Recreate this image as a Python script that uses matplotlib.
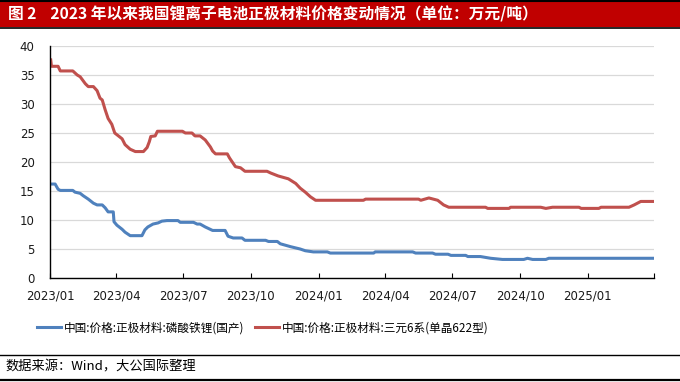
import matplotlib
matplotlib.use('Agg')
import matplotlib.pyplot as plt
from matplotlib.lines import Line2D
from matplotlib.patches import Rectangle
import pandas as pd

plt.rcParams['font.family'] = ['Noto Sans CJK SC', 'DejaVu Sans']

title = '图 2    2023 年以来我国锂离子电池正极材料价格变动情况（单位：万元/吨）'
source = '数据来源：Wind，大公国际整理'
tick_labels = ['2023/01', '2023/04', '2023/07', '2023/10', '2024/01',
               '2024/04', '2024/07', '2024/10', '2025/01']

lfp_label = '中国:价格:正极材料:磷酸铁锂(国产)'
lfp_dates = ['2023-01-02', '2023-01-08', '2023-01-12', '2023-01-15', '2023-02-01',
             '2023-02-04', '2023-02-11', '2023-02-15', '2023-02-22', '2023-03-01',
             '2023-03-06', '2023-03-13', '2023-03-17', '2023-03-21', '2023-03-28',
             '2023-03-29', '2023-04-02', '2023-04-09', '2023-04-13', '2023-04-20',
             '2023-05-06', '2023-05-10', '2023-05-14', '2023-05-21', '2023-05-28',
             '2023-06-02', '2023-06-09', '2023-06-24', '2023-06-27', '2023-07-15',
             '2023-07-20', '2023-07-24', '2023-07-31', '2023-08-10', '2023-08-27',
             '2023-08-31', '2023-09-07', '2023-09-19', '2023-09-23', '2023-10-21',
             '2023-10-25', '2023-11-06', '2023-11-10', '2023-11-24', '2023-12-07',
             '2023-12-14', '2023-12-25', '2024-01-13', '2024-01-17', '2024-03-16',
             '2024-03-18', '2024-05-08', '2024-05-12', '2024-06-04', '2024-06-08',
             '2024-06-25', '2024-06-29', '2024-07-19', '2024-07-22', '2024-08-08',
             '2024-08-22', '2024-09-07', '2024-10-06', '2024-10-11', '2024-10-18',
             '2024-11-05', '2024-11-09', '2025-04-01']
lfp_values = [16.2, 16.2, 15.3, 15.1, 15.1,
              14.8, 14.6, 14.2, 13.6, 12.9,
              12.6, 12.6, 12.1, 11.4, 11.4,
              9.7, 9.1, 8.4, 7.9, 7.3,
              7.3, 8.3, 8.8, 9.3, 9.5,
              9.8, 9.9, 9.9, 9.6, 9.6,
              9.3, 9.3, 8.8, 8.2, 8.2,
              7.2, 6.9, 6.9, 6.5, 6.5,
              6.3, 6.3, 5.9, 5.4, 5.0,
              4.7, 4.5, 4.5, 4.3, 4.3,
              4.5, 4.5, 4.3, 4.3, 4.1,
              4.1, 3.9, 3.9, 3.7, 3.7,
              3.4, 3.2, 3.2, 3.4, 3.2,
              3.2, 3.4, 3.4]

ncm_label = '中国:价格:正极材料:三元6系(单晶622型)'
ncm_dates = ['2023-01-02', '2023-01-03', '2023-01-12', '2023-01-15', '2023-02-01',
             '2023-02-07', '2023-02-11', '2023-02-18', '2023-02-22', '2023-03-01',
             '2023-03-06', '2023-03-10', '2023-03-13', '2023-03-17', '2023-03-21',
             '2023-03-26', '2023-03-30', '2023-04-04', '2023-04-09', '2023-04-13',
             '2023-04-20', '2023-04-27', '2023-05-08', '2023-05-13', '2023-05-16',
             '2023-05-18', '2023-05-24', '2023-05-27', '2023-06-30', '2023-07-04',
             '2023-07-13', '2023-07-17', '2023-07-24', '2023-07-31', '2023-08-07',
             '2023-08-10', '2023-08-14', '2023-08-30', '2023-09-02', '2023-09-10',
             '2023-09-17', '2023-09-23', '2023-10-23', '2023-10-28', '2023-11-07',
             '2023-11-21', '2023-12-01', '2023-12-07', '2023-12-14', '2023-12-21',
             '2023-12-28', '2024-03-02', '2024-03-05', '2024-05-16', '2024-05-19',
             '2024-05-30', '2024-06-11', '2024-06-19', '2024-06-26', '2024-08-15',
             '2024-08-18', '2024-09-16', '2024-09-18', '2024-10-29', '2024-11-05',
             '2024-11-14', '2024-12-20', '2024-12-23', '2025-01-16', '2025-01-19',
             '2025-02-26', '2025-03-05', '2025-03-14', '2025-04-01']
ncm_values = [37.6, 36.5, 36.5, 35.7, 35.7,
              35.0, 34.7, 33.5, 33.0, 33.0,
              32.3, 31.0, 30.7, 29.0, 27.5,
              26.5, 25.0, 24.5, 24.0, 23.0,
              22.2, 21.8, 21.8, 22.5, 23.5,
              24.4, 24.5, 25.3, 25.3, 25.0,
              25.0, 24.5, 24.5, 23.8, 22.6,
              21.9, 21.4, 21.4, 20.7, 19.2,
              19.0, 18.4, 18.4, 18.1, 17.6,
              17.1, 16.3, 15.5, 14.8, 14.0,
              13.4, 13.4, 13.6, 13.6, 13.4,
              13.8, 13.4, 12.6, 12.2, 12.2,
              12.0, 12.0, 12.2, 12.2, 12.0,
              12.2, 12.2, 12.0, 12.0, 12.2,
              12.2, 12.6, 13.2, 13.2]

fig = plt.figure(figsize=(6.8, 3.82), dpi=100)

# title bar
fig.add_artist(Rectangle((0, 1 - 27 / 382), 1, 25 / 382, transform=fig.transFigure,
                         facecolor='#C00000', edgecolor='none'))
fig.add_artist(Line2D([0, 1], [1 - 1 / 382] * 2, color='black', lw=1.5))
fig.add_artist(Line2D([0, 1], [1 - 27.5 / 382] * 2, color='black', lw=1.2))
fig.text(8 / 680, 1 - 14.5 / 382, title, color='white', fontsize=11.3,
         fontweight='bold', va='center', ha='left')

ax = fig.add_axes([50 / 680, 1 - 278 / 382, 604 / 680, 232 / 382])
ax.plot(pd.to_datetime(lfp_dates), lfp_values, color='#4F81BD', lw=2.2, label=lfp_label)
ax.plot(pd.to_datetime(ncm_dates), ncm_values, color='#C0504D', lw=2.2, label=ncm_label)

ax.set_xlim(pd.Timestamp('2023-01-01'), pd.Timestamp('2025-04-01'))
ax.set_ylim(0, 40)
ax.set_yticks(range(0, 41, 5))
ax.grid(axis='y', color='#D9D9D9', lw=0.9)
ax.set_axisbelow(True)

ticks = pd.date_range('2023-01-01', '2025-04-01', freq='QS')
ax.set_xticks(ticks)
ax.set_xticklabels(tick_labels + [''])
ax.tick_params(axis='x', direction='in', length=3.5, width=0.8, labelsize=8.5, pad=8)
ax.tick_params(axis='y', length=0, labelsize=8.5, pad=11)
for lbl in ax.get_xticklabels() + ax.get_yticklabels():
    lbl.set_fontfamily('DejaVu Sans')
    lbl.set_color('#1a1a1a')

for s in ['top', 'right']:
    ax.spines[s].set_visible(False)
for s in ['left', 'bottom']:
    ax.spines[s].set_color('black')
    ax.spines[s].set_linewidth(1.0)

fig.legend(loc='center', bbox_to_anchor=(0.386, 1 - 328 / 382), ncol=2, frameon=False,
           fontsize=8.4, handlelength=2.1, handletextpad=0.2, columnspacing=0.9)

# source footer
fig.add_artist(Line2D([0, 1], [1 - 355 / 382] * 2, color='black', lw=1.0))
fig.add_artist(Line2D([0, 1], [1 - 379.5 / 382] * 2, color='black', lw=1.6))
fig.text(5 / 680, 1 - 367 / 382, source, fontsize=9.5, va='center', ha='left')

fig.savefig('out.png', dpi=100)
